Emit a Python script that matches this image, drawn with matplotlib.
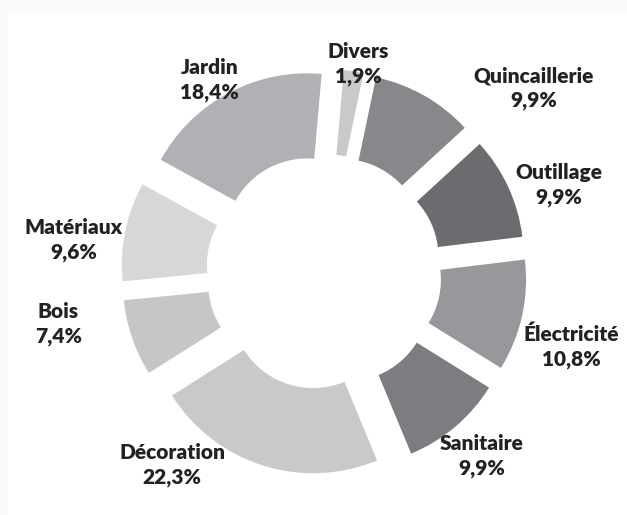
import numpy as np
import matplotlib.pyplot as plt
from matplotlib.patches import Rectangle

labels = ['Divers', 'Quincaillerie', 'Outillage', 'Électricité', 'Sanitaire',
          'Décoration', 'Bois', 'Matériaux', 'Jardin']
values = [1.9, 9.9, 9.9, 10.8, 9.9, 22.3, 7.4, 9.6, 18.4]
pct_text = ['1,9%', '9,9%', '9,9%', '10,8%', '9,9%', '22,3%', '7,4%', '9,6%', '18,4%']

colors = ['#c8c9cb', '#87888c', '#6b6c70', '#97989c', '#7c7d81',
          '#c8c9cb', '#c5c6c8', '#d6d7d9', '#b0b1b4']

# label placement: distance from centre (radius units) and angle shift vs. wedge middle
label_dist = [1.26, 1.67, 1.50, 1.545, 1.45, 1.47, 1.62, 1.51, 1.34]
label_shift = [0.9, 19.1, 4.5, 4.3, -0.3, 20.6, 8.0, -4.2, -2.6]

W, H = 627, 515
cx, cy, scale = 324, 272, 167  # pixels

fig = plt.figure(figsize=(W / 100, H / 100), dpi=100)
fig.patch.set_facecolor('#f9f9f9')
fig.patches.append(Rectangle((8 / W, 0), 1, 1 - 13 / H, transform=fig.transFigure,
                             facecolor='white', edgecolor='none', zorder=-5))
ax = fig.add_axes([0, 0, 1, 1])
ax.axis('off')
ax.patch.set_alpha(0)

start = 85
ax.pie(values, colors=colors, startangle=start, counterclock=False,
       explode=[0.215] * len(values), radius=1,
       wedgeprops=dict(width=0.51, edgecolor='none'))
ax.set_aspect('auto')
ax.set_xlim(-cx / scale, (W - cx) / scale)
ax.set_ylim(-(H - cy) / scale, cy / scale)

frac = np.array(values) / sum(values)
cum = np.cumsum(frac) - frac / 2
for i, lab in enumerate(labels):
    ang = np.deg2rad(start - cum[i] * 360 - label_shift[i])
    x = label_dist[i] * np.cos(ang)
    y = label_dist[i] * np.sin(ang)
    ax.text(x, y, f'{lab}\n{pct_text[i]}', ha='center', va='center',
            fontsize=15, fontweight='heavy', family='Lato', color='#222222',
            linespacing=1.35, multialignment='center')

fig.savefig('out.png', dpi=100)
